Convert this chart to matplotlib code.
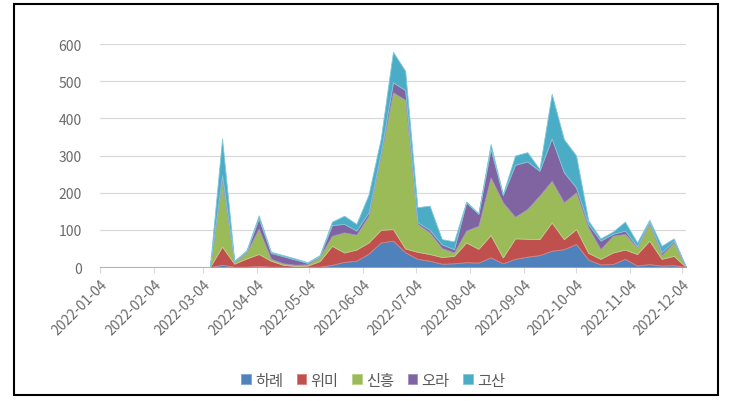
import numpy as np
import pandas as pd
import matplotlib
matplotlib.use('Agg')
import matplotlib.pyplot as plt
import matplotlib.dates as mdates
from matplotlib.patches import Rectangle

plt.rcParams['font.family'] = ['Noto Sans CJK KR', 'DejaVu Sans']

# weekly dates (Tuesdays) from 2022-01-04 to 2022-12-06
dates = pd.date_range('2022-01-04', '2022-12-06', freq='7D')

series_names = ['하례', '위미', '신흥', '오라', '고산']

harye = [0]*10 + [6, 1, 1, 3, 1, 1, 0, 1, 1, 6, 14, 17, 36, 66, 71, 40, 22, 17, 9, 10,
                  13, 12, 26, 10, 22, 28, 32, 44, 48, 62, 20, 7, 8, 22, 4, 8, 4, 5, 0]
wimi = [0]*10 + [49, 8, 22, 32, 16, 5, 3, 3, 15, 51, 25, 30, 30, 34, 31, 10, 19, 18, 18, 20,
                 53, 37, 60, 16, 55, 48, 43, 76, 27, 40, 18, 15, 31, 25, 31, 63, 18, 25, 0]
sinheung = [0]*10 + [178, 4, 16, 68, 5, 4, 3, 3, 12, 27, 54, 40, 72, 200, 368, 400, 75, 58, 24, 9,
                     32, 62, 155, 148, 58, 80, 117, 112, 99, 99, 68, 26, 45, 42, 18, 47, 10, 36, 0]
ora = [0]*10 + [14, 2, 3, 28, 16, 19, 14, 4, 2, 29, 23, 11, 9, 8, 27, 26, 5, 7, 10, 9,
                76, 32, 77, 20, 140, 128, 67, 114, 81, 13, 9, 23, 5, 9, 3, 4, 7, 5, 0]
gosan = [0]*10 + [99, 2, 3, 8, 3, 3, 3, 2, 2, 9, 22, 18, 48, 38, 82, 52, 40, 65, 14, 21,
                  2, 2, 13, 2, 25, 25, 5, 120, 89, 86, 10, 6, 6, 24, 10, 5, 18, 6, 0]

tick_dates = pd.date_range('2022-01-01', '2022-12-01', freq='MS') + pd.Timedelta(days=3)

colors = ['#4F81BD', '#C0504D', '#9BBB59', '#8064A2', '#4BACC6']
edge_colors = ['#7FA3D4', '#D9807D', '#B9D18A', '#A48FC0', '#80C8DA']

fig = plt.figure(figsize=(7.32, 4.02), dpi=100)
ax = fig.add_axes([0.1366, 0.3333, 0.8005, 0.5547])

polys = ax.stackplot(dates, harye, wimi, sinheung, ora, gosan,
                     colors=colors, labels=series_names, zorder=3)
for p, ec in zip(polys, edge_colors):
    p.set_edgecolor(ec)
    p.set_linewidth(0.6)

ax.set_ylim(0, 600)
ax.set_yticks(range(0, 601, 100))
ax.set_xlim(dates[0], dates[-1])
ax.set_xticks(tick_dates)
ax.xaxis.set_major_formatter(mdates.DateFormatter('%Y-%m-%d'))
plt.setp(ax.get_xticklabels(), rotation=45, ha='right', rotation_mode='anchor')

ax.grid(axis='y', color='#D9D9D9', linewidth=0.9, zorder=0)
ax.set_axisbelow(True)
for s in ['top', 'right', 'left']:
    ax.spines[s].set_visible(False)
ax.spines['bottom'].set_color('#D9D9D9')
ax.tick_params(axis='y', length=0, labelsize=10, labelcolor='#6A6A6A', pad=13)
ax.tick_params(axis='x', length=4, color='#D9D9D9', labelsize=10, labelcolor='#6A6A6A', pad=3)

leg = fig.legend(loc='center', bbox_to_anchor=(0.51, 0.052), ncol=5, frameon=False,
                 fontsize=11, handlelength=0.6, handleheight=0.6, handletextpad=0.3,
                 columnspacing=0.9)
for t in leg.get_texts():
    t.set_color('#595959')

fig.patches.append(Rectangle((0.019, 0.014), 0.962, 0.974, transform=fig.transFigure,
                             fill=False, edgecolor='black', linewidth=1.5))

fig.savefig('out.png', dpi=100)
